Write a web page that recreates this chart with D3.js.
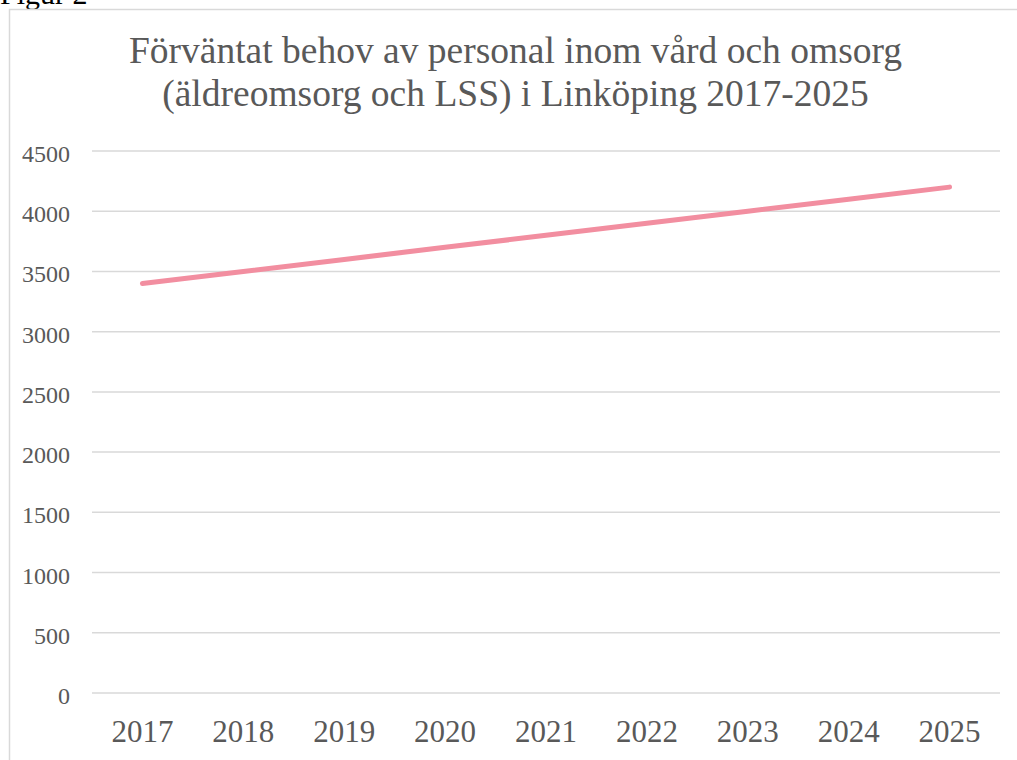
<!DOCTYPE html>
<html>
<head>
<meta charset="utf-8">
<script src="https://d3js.org/d3.v7.min.js"></script>
<style>
  body { margin: 0; background: #fff; }
  svg text { font-family: "Liberation Serif", "Times New Roman", serif; }
</style>
</head>
<body>
<div id="canvas"></div>
<script>
var years = ["2017", "2018", "2019", "2020", "2021", "2022", "2023", "2024", "2025"];
var staff = [3400, 3500, 3600, 3700, 3800, 3900, 4000, 4100, 4200];
var yTicks = [0, 500, 1000, 1500, 2000, 2500, 3000, 3500, 4000, 4500];
var titleLines = ["Förväntat behov av personal inom vård och omsorg", "(äldreomsorg och LSS) i Linköping 2017-2025"];

var svg = d3.select('#canvas').append('svg')
  .attr('width', 1017)
  .attr('height', 760);

// caption above the chart box, cut off at the top like in the page scan
svg.append('text')
  .attr('x', 0).attr('y', 4)
  .attr('font-size', 30)
  .attr('fill', '#000')
  .text('Figur 2');

// chart area border (runs off right and bottom)
svg.append('rect')
  .attr('x', 9.5).attr('y', 9.5)
  .attr('width', 1030).attr('height', 800)
  .attr('fill', 'none')
  .attr('stroke', '#d9d9d9')
  .attr('stroke-width', 1.5);

svg.append('text')
  .attr('x', 515.5)
  .attr('text-anchor', 'middle')
  .attr('font-size', 37.5)
  .attr('fill', '#595959')
  .selectAll('tspan').data(titleLines).enter().append('tspan')
  .attr('x', 515.5)
  .attr('y', function (d, i) { return 63 + i * 43; })
  .text(function (d) { return d; });

var x = d3.scaleBand().domain(years).range([92, 1000]);
var y = d3.scaleLinear().domain([0, 4500]).range([693, 151]);

// gridlines
svg.append('g').selectAll('line').data(yTicks).enter().append('line')
  .attr('x1', 92).attr('x2', 1000)
  .attr('y1', function (d) { return y(d); })
  .attr('y2', function (d) { return y(d); })
  .attr('stroke', '#d9d9d9')
  .attr('stroke-width', 1.5);

// y labels
svg.append('g').selectAll('text').data(yTicks).enter().append('text')
  .attr('x', 70)
  .attr('y', function (d) { return y(d) + 11; })
  .attr('text-anchor', 'end')
  .attr('font-size', 24)
  .attr('fill', '#595959')
  .text(function (d) { return d; });

// x labels
svg.append('g').selectAll('text').data(years).enter().append('text')
  .attr('x', function (d) { return x(d) + x.bandwidth() / 2; })
  .attr('y', 742)
  .attr('text-anchor', 'middle')
  .attr('font-size', 31)
  .attr('fill', '#595959')
  .text(function (d) { return d; });

var line = d3.line()
  .x(function (d, i) { return x(years[i]) + x.bandwidth() / 2; })
  .y(function (d) { return y(d); });

svg.append('path')
  .datum(staff)
  .attr('d', line)
  .attr('fill', 'none')
  .attr('stroke', '#f28ea0')
  .attr('stroke-width', 5)
  .attr('stroke-linecap', 'round')
  .attr('stroke-linejoin', 'round');
</script>
</body>
</html>
